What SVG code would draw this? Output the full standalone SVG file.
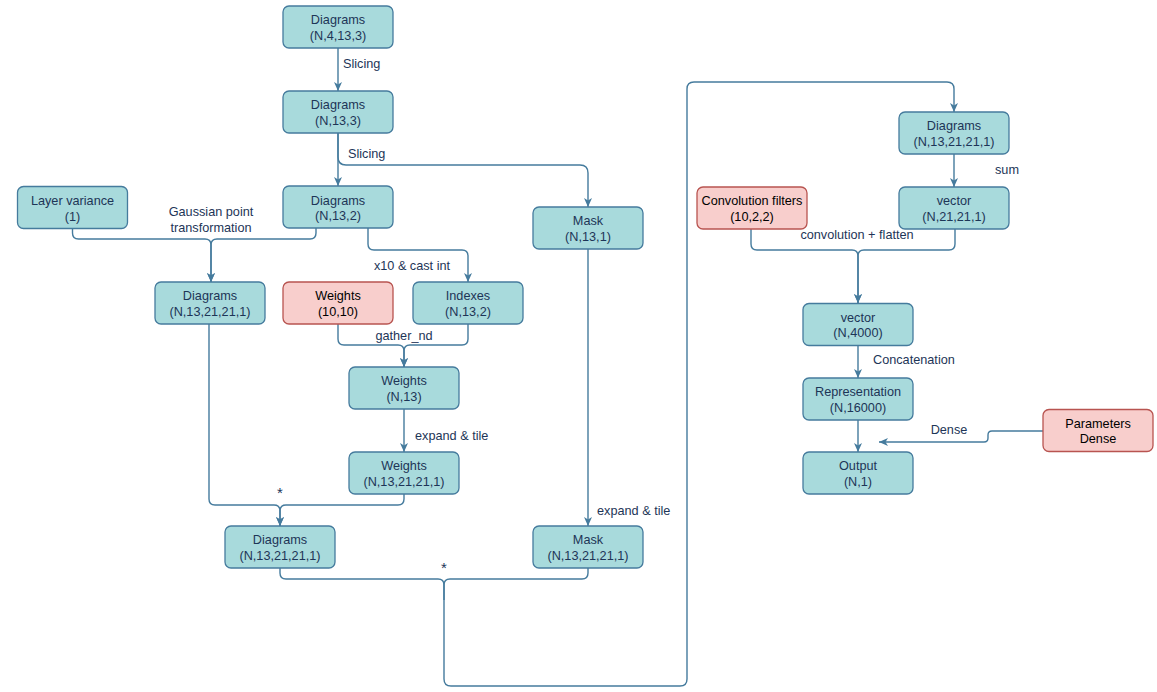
<svg xmlns="http://www.w3.org/2000/svg" width="1157" height="692" viewBox="0 0 1157 692">
  <style>
    .box { fill: #A8DADC; stroke: #457B9D; stroke-width: 1.3; }
    .box-red { fill: #F8CECC; stroke: #B85450; stroke-width: 1.3; }
    .t { font-family: "Liberation Sans", Arial, sans-serif; font-size: 12.7px; fill: #1D3557; text-anchor: middle; }
    .t-red { font-family: "Liberation Sans", Arial, sans-serif; font-size: 12.7px; fill: #000000; text-anchor: middle; }
    .lbl { font-family: "Liberation Sans", Arial, sans-serif; font-size: 12.7px; fill: #1D3557; }
    .star { font-family: "Liberation Sans", Arial, sans-serif; font-size: 15px; fill: #1D3557; text-anchor: middle; }
    .edge { fill: none; stroke: #457B9D; stroke-width: 1.4; }
    .arrow { marker-end: url(#head); }
  </style>
  <defs>
    <marker id="head" markerUnits="userSpaceOnUse" markerWidth="9" markerHeight="8" viewBox="0 0 9 8" refX="9" refY="4" orient="auto">
      <path d="M0,0 L9,4 L0,8 L2.5,4 Z" fill="#457B9D"/>
    </marker>
  </defs>
  <rect width="1157" height="692" fill="#ffffff"/>

  <!-- connectors -->
  <g id="connectors">
    <path class="edge arrow" d="M338,48 V91"/>
    <path class="edge arrow" d="M338,133 V186"/>
    <path class="edge arrow" d="M338,133 V157 Q338,165 346,165 H580 Q588,165 588,173 V207"/>
    <path class="edge arrow" d="M72.5,228 V233 Q72.5,239 78.5,239 H205 Q211,239 211,245 V282"/>
    <path class="edge arrow" d="M316,228 V233 Q316,239 310,239 H217 Q211,239 211,245 V282"/>
    <path class="edge arrow" d="M368,228 V244 Q368,250 374,250 H462 Q468,250 468,256 V282"/>
    <path class="edge arrow" d="M338,324 V339 Q338,345 344,345 H398 Q404,345 404,351 V367"/>
    <path class="edge arrow" d="M468,324 V339 Q468,345 462,345 H410 Q404,345 404,351 V367"/>
    <path class="edge arrow" d="M404,409 V452"/>
    <path class="edge arrow" d="M209,324 V499 Q209,505 215,505 H274 Q280,505 280,511 V526"/>
    <path class="edge arrow" d="M404,494 V499 Q404,505 398,505 H286 Q280,505 280,511 V526"/>
    <path class="edge arrow" d="M588,249 V526"/>
    <path class="edge arrow" d="M280,568 V573 Q280,579 286,579 H438 Q444,579 444,585 V679 Q444,686 451,686 H680 Q687,686 687,679 V89 Q687,82 694,82 H947 Q954,82 954,89 V112"/>
    <path class="edge" d="M588,568 V573 Q588,579 582,579 H450 Q444,579 444,585 V600"/>
    <path class="edge arrow" d="M954,154 V187"/>
    <path class="edge arrow" d="M751,229 V244 Q751,250 757,250 H852 Q858,250 858,256 V303"/>
    <path class="edge arrow" d="M955,229 V244 Q955,250 949,250 H864 Q858,250 858,256 V303"/>
    <path class="edge arrow" d="M858,346 V378"/>
    <path class="edge arrow" d="M858,420 V452"/>
    <path class="edge arrow" d="M1043,431 H992 Q988,431 988,435 V438 Q988,442 984,442 H879"/>

    <text class="lbl" x="343" y="68">Slicing</text>
    <text class="lbl" x="348" y="158">Slicing</text>
    <text class="lbl" x="211" y="216" text-anchor="middle">Gaussian point</text>
    <text class="lbl" x="211" y="232" text-anchor="middle">transformation</text>
    <text class="lbl" x="412" y="270" text-anchor="middle">x10 &amp; cast int</text>
    <text class="lbl" x="404" y="340" text-anchor="middle">gather_nd</text>
    <text class="lbl" x="415" y="440">expand &amp; tile</text>
    <text class="star" x="280" y="498">*</text>
    <text class="lbl" x="597" y="515">expand &amp; tile</text>
    <text class="star" x="444" y="573">*</text>
    <text class="lbl" x="995" y="174">sum</text>
    <text class="lbl" x="857" y="239" text-anchor="middle">convolution + flatten</text>
    <text class="lbl" x="873" y="364">Concatenation</text>
    <text class="lbl" x="949" y="434" text-anchor="middle">Dense</text>
  </g>

  <!-- nodes -->
  <g id="n-diagrams-4-13-3">
    <rect class="box" x="283" y="6" width="110" height="42" rx="6"/>
    <text class="t" x="338" y="24">Diagrams</text>
    <text class="t" x="338" y="39.5">(N,4,13,3)</text>
  </g>
  <g id="n-diagrams-13-3">
    <rect class="box" x="283" y="91" width="110" height="42" rx="6"/>
    <text class="t" x="338" y="109">Diagrams</text>
    <text class="t" x="338" y="124.5">(N,13,3)</text>
  </g>
  <g id="n-diagrams-13-2">
    <rect class="box" x="283" y="186" width="110" height="42" rx="6"/>
    <text class="t" x="338" y="204.5">Diagrams</text>
    <text class="t" x="338" y="220">(N,13,2)</text>
  </g>
  <g id="n-layer-variance">
    <rect class="box" x="17.5" y="186.5" width="110" height="42" rx="6"/>
    <text class="t" x="72.5" y="205">Layer variance</text>
    <text class="t" x="72.5" y="220.5">(1)</text>
  </g>
  <g id="n-mask-13-1">
    <rect class="box" x="533" y="207" width="110" height="42" rx="6"/>
    <text class="t" x="588" y="225">Mask</text>
    <text class="t" x="588" y="240.5">(N,13,1)</text>
  </g>
  <g id="n-diagrams-gauss">
    <rect class="box" x="155" y="282" width="110" height="42" rx="6"/>
    <text class="t" x="210" y="300">Diagrams</text>
    <text class="t" x="210" y="315.5">(N,13,21,21,1)</text>
  </g>
  <g id="n-weights-10-10">
    <rect class="box-red" x="283" y="282" width="110" height="42" rx="6"/>
    <text class="t-red" x="338" y="300">Weights</text>
    <text class="t-red" x="338" y="315.5">(10,10)</text>
  </g>
  <g id="n-indexes">
    <rect class="box" x="413" y="282" width="110" height="42" rx="6"/>
    <text class="t" x="468" y="300">Indexes</text>
    <text class="t" x="468" y="315.5">(N,13,2)</text>
  </g>
  <g id="n-weights-13">
    <rect class="box" x="349" y="367" width="110" height="42" rx="6"/>
    <text class="t" x="404" y="385">Weights</text>
    <text class="t" x="404" y="400.5">(N,13)</text>
  </g>
  <g id="n-weights-tiled">
    <rect class="box" x="349" y="452" width="110" height="42" rx="6"/>
    <text class="t" x="404" y="470">Weights</text>
    <text class="t" x="404" y="485.5">(N,13,21,21,1)</text>
  </g>
  <g id="n-diagrams-weighted">
    <rect class="box" x="225" y="526" width="110" height="42" rx="6"/>
    <text class="t" x="280" y="544">Diagrams</text>
    <text class="t" x="280" y="559.5">(N,13,21,21,1)</text>
  </g>
  <g id="n-mask-tiled">
    <rect class="box" x="533" y="526" width="110" height="42" rx="6"/>
    <text class="t" x="588" y="544">Mask</text>
    <text class="t" x="588" y="559.5">(N,13,21,21,1)</text>
  </g>
  <g id="n-diagrams-masked">
    <rect class="box" x="899" y="112" width="110" height="42" rx="6"/>
    <text class="t" x="954" y="130">Diagrams</text>
    <text class="t" x="954" y="145.5">(N,13,21,21,1)</text>
  </g>
  <g id="n-conv-filters">
    <rect class="box-red" x="697" y="187" width="110" height="42" rx="6"/>
    <text class="t-red" x="752" y="205">Convolution filters</text>
    <text class="t-red" x="752" y="220.5">(10,2,2)</text>
  </g>
  <g id="n-vector-21">
    <rect class="box" x="899" y="187" width="110" height="42" rx="6"/>
    <text class="t" x="954" y="205">vector</text>
    <text class="t" x="954" y="220.5">(N,21,21,1)</text>
  </g>
  <g id="n-vector-4000">
    <rect class="box" x="803" y="303.5" width="110" height="42" rx="6"/>
    <text class="t" x="858" y="321.5">vector</text>
    <text class="t" x="858" y="337">(N,4000)</text>
  </g>
  <g id="n-representation">
    <rect class="box" x="803" y="378" width="110" height="42" rx="6"/>
    <text class="t" x="858" y="396">Representation</text>
    <text class="t" x="858" y="411.5">(N,16000)</text>
  </g>
  <g id="n-output">
    <rect class="box" x="803" y="452" width="110" height="42" rx="6"/>
    <text class="t" x="858" y="470">Output</text>
    <text class="t" x="858" y="485.5">(N,1)</text>
  </g>
  <g id="n-params-dense">
    <rect class="box-red" x="1043" y="409.5" width="110" height="42" rx="6"/>
    <text class="t-red" x="1098" y="427.5">Parameters</text>
    <text class="t-red" x="1098" y="443">Dense</text>
  </g>
</svg>
